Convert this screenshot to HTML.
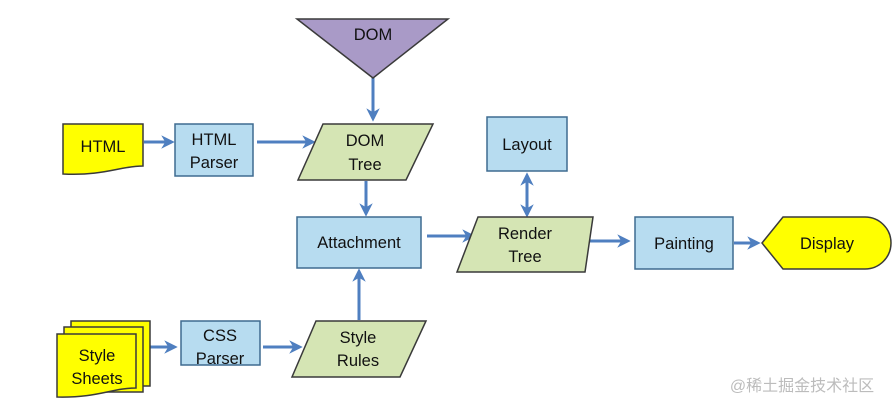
<!DOCTYPE html>
<html><head><meta charset="utf-8"><style>
html,body{margin:0;padding:0;background:#fff;}
svg{display:block;}
text{font-family:"Liberation Sans",sans-serif;font-size:16.5px;fill:#111;text-anchor:middle;}
</style></head><body>
<svg width="896" height="409" viewBox="0 0 896 409" xmlns="http://www.w3.org/2000/svg">
<defs>
<marker id="a" viewBox="0 0 10 10" refX="8" refY="5" markerWidth="4.5" markerHeight="4.5" orient="auto-start-reverse">
<path d="M0,0 L10,5 L0,10 L3,5 z" fill="#4f7fc0"/></marker>
</defs>
<g stroke="#4f7fc0" stroke-width="3" fill="none" marker-end="url(#a)">
<line x1="373" y1="78" x2="373" y2="119"/>
<line x1="144" y1="142" x2="172" y2="142"/>
<line x1="257" y1="142" x2="313" y2="142"/>
<line x1="366" y1="181" x2="366" y2="214"/>
<line x1="427" y1="236" x2="473" y2="236"/>
<line x1="527" y1="175" x2="527" y2="215" marker-start="url(#a)"/>
<line x1="586" y1="241" x2="628" y2="241"/>
<line x1="734" y1="243" x2="758" y2="243"/>
<line x1="150" y1="347" x2="175" y2="347"/>
<line x1="263" y1="347" x2="300" y2="347"/>
<line x1="359" y1="320" x2="359" y2="271"/>
</g>
<g stroke="#3a3a3a" stroke-width="1.5">
<polygon points="297,19 448,19 373,78" fill="#a99ac7"/>
<path d="M63,124 H143 V166 C120,166 105,176 63,174 Z" fill="#ffff00"/>
<rect x="175" y="124" width="78" height="52" fill="#b7dcf0" stroke="#3f6b90"/>
<polygon points="323,124 433,124 406,180 298,180" fill="#d5e5b4"/>
<rect x="297" y="217" width="124" height="51" fill="#b7dcf0" stroke="#3f6b90"/>
<rect x="487" y="117" width="80" height="54" fill="#b7dcf0" stroke="#3f6b90"/>
<polygon points="478,217 593,217 585,272 457,272" fill="#d5e5b4"/>
<rect x="635" y="217" width="98" height="52" fill="#b7dcf0" stroke="#3f6b90"/>
<path d="M762,243 L783,217 H865 A26,26 0 0 1 865,269 H783 Z" fill="#ffff00"/>
<path d="M71,321 H150 V386 H71 Z" fill="#ffff00"/>
<path d="M64,327 H143 V392 H64 Z" fill="#ffff00"/>
<path d="M57,334 H136 V388 C112,388 98,398 57,397 Z" fill="#ffff00"/>
<rect x="181" y="321" width="79" height="44" fill="#b7dcf0" stroke="#3f6b90"/>
<polygon points="316,321 426,321 400,377 292,377" fill="#d5e5b4"/>
</g>
<text x="373" y="40">DOM</text>
<text x="103" y="152">HTML</text>
<text x="214" y="145">HTML</text><text x="214" y="168">Parser</text>
<text x="365" y="146">DOM</text><text x="365" y="170">Tree</text>
<text x="359" y="248">Attachment</text>
<text x="527" y="150">Layout</text>
<text x="525" y="239">Render</text><text x="525" y="262">Tree</text>
<text x="684" y="249">Painting</text>
<text x="827" y="249">Display</text>
<text x="97" y="361">Style</text><text x="97" y="384">Sheets</text>
<text x="220" y="341">CSS</text><text x="220" y="364">Parser</text>
<text x="358" y="343">Style</text><text x="358" y="366">Rules</text>
<text x="802" y="391" style="font-family:'Liberation Sans','Noto Sans CJK SC',sans-serif;font-size:16px;fill:#bcbcbc">@稀土掘金技术社区</text>
</svg>
</body></html>
